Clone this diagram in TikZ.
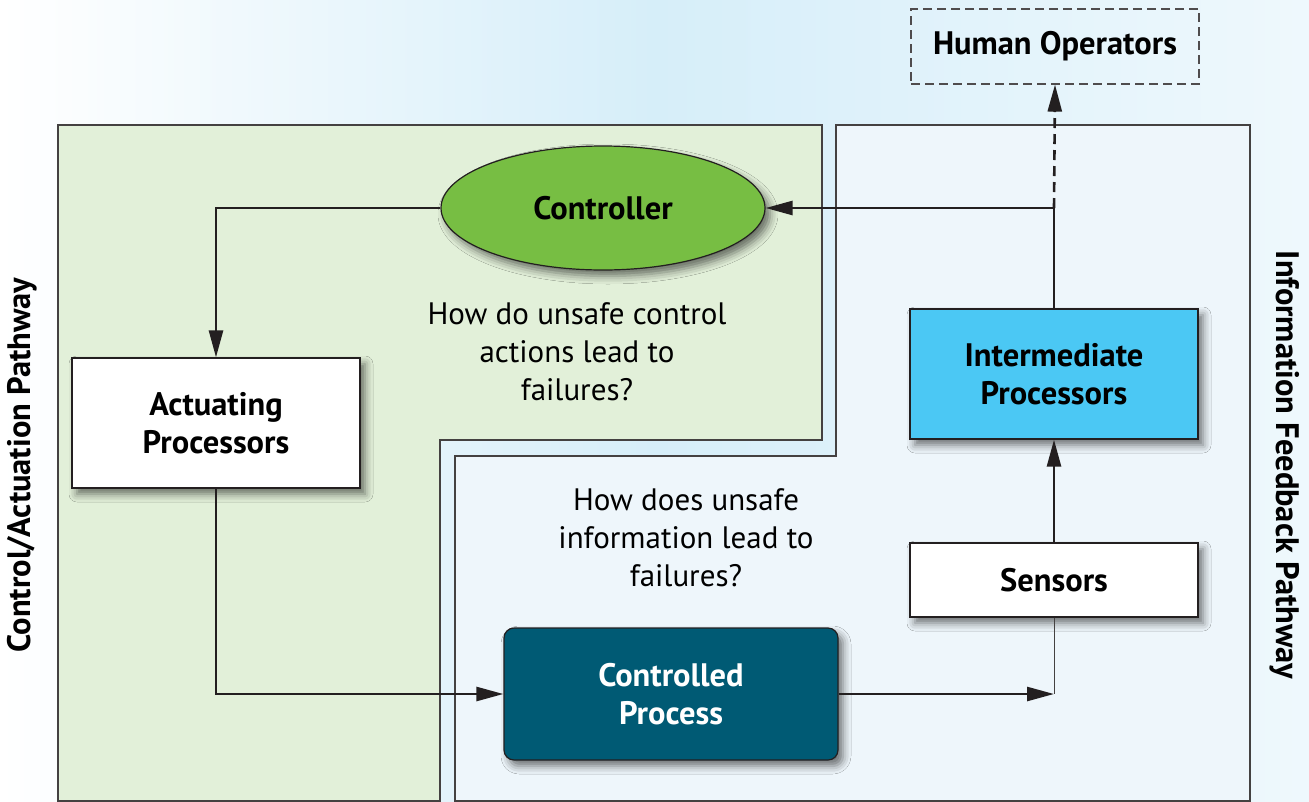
\documentclass[tikz,border=0pt]{standalone}
\usepackage{fontspec}
\setmainfont{PT Sans}
\usetikzlibrary{arrows.meta,shapes.geometric,shadows.blur}
\definecolor{bgblue}{HTML}{D6EEF9}
\definecolor{greenpanel}{HTML}{E2F0D9}
\definecolor{bluepanel}{HTML}{EEF6FB}
\definecolor{ctrlgreen}{HTML}{77BE43}
\definecolor{ipblue}{HTML}{4BC8F4}
\definecolor{cpteal}{HTML}{005A74}
\definecolor{ink}{HTML}{231F20}
\tikzset{
  panel/.style={draw=ink!85, line width=1.3pt},
  shad/.style={blur shadow={shadow xshift=5pt, shadow yshift=-6pt, shadow blur radius=8pt, shadow opacity=55}},
  boxnode/.style={draw=ink, line width=1.2pt, fill=white, align=center, inner sep=0pt,
    font=\fontsize{32.5}{38}\selectfont\bfseries, text=black, shad},
  conn/.style={draw=ink, line width=2.6pt, -{Triangle[length=27pt,width=14pt]}},
  question/.style={align=center, font=\fontsize{31}{38}\selectfont, text=black},
  sidelabel/.style={font=\fontsize{32.5}{36}\selectfont\bfseries, text=black}
}
\begin{document}
\begin{tikzpicture}[x=1pt,y=-1pt]
\useasboundingbox (0,0) rectangle (1309,801);
\shade[left color=white, right color=white!60!bgblue, middle color=bgblue] (0,0) rectangle (1309,801);
% panels
\path[panel, fill=greenpanel] (58,125) -- (822,125) -- (822,440) -- (440,440) -- (440,801) -- (58,801) -- cycle;
\path[panel, fill=bluepanel] (836,125) -- (1250,125) -- (1250,801) -- (455,801) -- (455,456) -- (836,456) -- cycle;
% nodes
\node[boxnode, ellipse, fill=ctrlgreen, minimum width=324pt, minimum height=124pt] (ctrl) at (603,208) {Controller};
\node[boxnode, minimum width=288pt, minimum height=130pt] (act) at (216,423) {Actuating\\Processors};
\node[boxnode, fill=ipblue, minimum width=288pt, minimum height=130pt] (ip) at (1054,374) {Intermediate\\Processors};
\node[boxnode, minimum width=288pt, minimum height=74pt] (sens) at (1054,580) {Sensors};
\node[boxnode, fill=cpteal, text=white, rounded corners=10pt, minimum width=334pt, minimum height=132pt] (cp) at (671,694) {Controlled\\Process};
\node[draw=ink!80, dashed, dash pattern=on 9pt off 5pt, line width=1.1pt, minimum width=288pt, minimum height=75pt, inner sep=0pt, font=\fontsize{32.5}{36}\selectfont\bfseries] (ho) at (1055,46.5) {Human Operators};
% questions
\node[question] (q1) at (577,352) {How do unsafe control\\actions lead to\\failures?};
\node[question] (q2) at (686,538) {How does unsafe\\information lead to\\failures?};
% side labels
\node[sidelabel, rotate=90] (lab1) at (22,465) {Control/Actuation Pathway};
\node[sidelabel, rotate=-90] (lab2) at (1285,465) {Information Feedback Pathway};
% connectors
\coordinate (junc) at (sens.south |- cp.east);
\coordinate (split) at (ip.north |- ctrl.east);
\draw[conn] (ctrl.west) -| (act.north);
\draw[conn] (act.south) |- (cp.west);
\draw[draw=ink!85, line width=1pt] (sens.south) -- (junc);
\draw[conn] (cp.east) -- (junc);
\draw[conn] (sens.north) -- (ip.south);
\draw[conn] (ip.north) |- (ctrl.east);
\draw[conn, dash pattern=on 10pt off 6pt] (split) -- (ho.south);
\end{tikzpicture}
\end{document}
